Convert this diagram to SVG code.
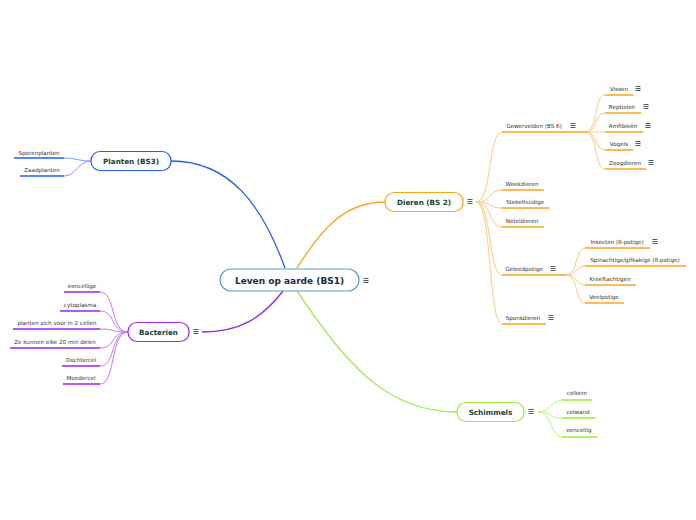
<svg xmlns="http://www.w3.org/2000/svg" xmlns:xlink="http://www.w3.org/1999/xlink" width="696" height="520" viewBox="0 0 696 520">
<style>
.bg{fill:#ffffff}
.node{fill:#ffffff;stroke-width:1.2}
.nt{font-family:"DejaVu Sans",Verdana,sans-serif;font-weight:bold;font-size:7.2px;fill:#1d4036;text-anchor:middle;dominant-baseline:central}
.ct{font-family:"DejaVu Sans",Verdana,sans-serif;font-weight:bold;font-size:9px;fill:#1a2a4a;text-anchor:middle;dominant-baseline:central}
.lt{font-family:"DejaVu Sans",Verdana,sans-serif;font-size:5.6px;fill:#333333;text-anchor:middle}
.ul{fill:none;stroke-width:1.5}
.cn{fill:none;stroke-width:1}
.main{fill:none;stroke-width:1.3}
.blue{stroke:#1f5cff}
.purple{stroke:#a020f0}
.orange{stroke:#ffa31a}
.green{stroke:#96ee36}
.lblue{stroke:#7c9cff}
.lpurple{stroke:#c77cf5}
.lorange{stroke:#ffcc80}
.lgreen{stroke:#bdf58a}
</style>
<defs>
<g id="menu"><path d="M-2.5,-2.5H2.5M-2.5,-0.5H2.5M-2.5,1.5H2.5" stroke="#3d4a5a" stroke-width="0.9" fill="none"/></g>
</defs>
<rect class="bg" width="696" height="520"/>
<g id="connectors">
<path class="main blue" d="M285,268 C262,205 230,161 171,161"/>
<path class="main purple" d="M283,291 C262,318 240,332 202,332"/>
<path class="main orange" d="M297,268 C322,228 345,202 385,202"/>
<path class="main green" d="M297,291 C345,362 385,412 457,412"/>
<path class="cn lblue" d="M91,161 C78,161 76,158 64,158"/>
<path class="cn lblue" d="M91,161 C78,161 76,176 64,176"/>
<path class="cn lpurple" d="M128,332 C110,332 116,292 100,292"/>
<path class="cn lpurple" d="M128,332 C110,332 116,311 100,311"/>
<path class="cn lpurple" d="M128,332 C110,332 116,329 100,329"/>
<path class="cn lpurple" d="M128,332 C110,332 116,348 100,348"/>
<path class="cn lpurple" d="M128,332 C110,332 116,366 100,366"/>
<path class="cn lpurple" d="M128,332 C110,332 116,384 100,384"/>
<path class="cn lorange" d="M476,202 C492,202 488,132 502,132"/>
<path class="cn lorange" d="M476,202 C492,202 488,190 502,190"/>
<path class="cn lorange" d="M476,202 C492,202 488,208 502,208"/>
<path class="cn lorange" d="M476,202 C492,202 488,227 502,227"/>
<path class="cn lorange" d="M476,202 C492,202 488,275 502,275"/>
<path class="cn lorange" d="M476,202 C492,202 488,324 502,324"/>
<path class="cn lorange" d="M585,132 C598,132 594,95 605,95"/>
<path class="cn lorange" d="M585,132 C598,132 594,113 605,113"/>
<path class="cn lorange" d="M585,132 C598,132 594,132 605,132"/>
<path class="cn lorange" d="M585,132 C598,132 594,150 605,150"/>
<path class="cn lorange" d="M585,132 C598,132 594,169 605,169"/>
<path class="cn lorange" d="M566,275 C578,275 575,248 585,248"/>
<path class="cn lorange" d="M566,275 C578,275 575,266 585,266"/>
<path class="cn lorange" d="M566,275 C578,275 575,285 585,285"/>
<path class="cn lorange" d="M566,275 C578,275 575,303 585,303"/>
<path class="cn lgreen" d="M538,412 C552,412 550,400 562,400"/>
<path class="cn lgreen" d="M538,412 C552,412 550,418 562,418"/>
<path class="cn lgreen" d="M538,412 C552,412 550,437 562,437"/>
</g>
<g id="center">
<rect class="node" x="220" y="269" width="139" height="22" rx="11" stroke="#5b9fd6"/>
<text class="ct" x="289.5" y="280.5">Leven op aarde (BS1)</text>
<use xlink:href="#menu" x="366" y="281"/>
</g>
<g id="planten">
<rect class="node" x="91" y="151.5" width="80" height="19" rx="9" stroke="#1f5cff"/>
<text class="nt" x="131" y="161">Planten (BS3)</text>
</g>
<g id="sporenplanten"><text class="lt" x="39" y="155">Sporenplanten</text><path class="ul blue" d="M14,158H64"/></g>
<g id="zaadplanten"><text class="lt" x="42" y="172">Zaadplanten</text><path class="ul blue" d="M20,176H64"/></g>
<g id="bacterien">
<rect class="node" x="128" y="322.5" width="61" height="19" rx="9" stroke="#a020f0"/>
<text class="nt" x="158.5" y="332">Bacterien</text>
<use xlink:href="#menu" x="196" y="332"/>
</g>
<g id="eencellige"><text class="lt" x="82" y="288">eencellige</text><path class="ul purple" d="M64,292H100"/></g>
<g id="cytoplasma"><text class="lt" x="80" y="307">cytoplasma</text><path class="ul purple" d="M60,311H100"/></g>
<g id="planten-zich"><text class="lt" x="57" y="325">planten zich voor in 2 cellen</text><path class="ul purple" d="M13,329H100"/></g>
<g id="ze-kunnen"><text class="lt" x="55" y="344">Ze kunnen elke 20 min delen</text><path class="ul purple" d="M10,348H100"/></g>
<g id="dochtercel"><text class="lt" x="81" y="362">Dochtercel</text><path class="ul purple" d="M62,366H100"/></g>
<g id="moedercel"><text class="lt" x="81" y="380">Moedercel</text><path class="ul purple" d="M63,384H100"/></g>
<g id="dieren">
<rect class="node" x="385" y="192.5" width="78" height="19" rx="9" stroke="#ffa31a"/>
<text class="nt" x="424" y="202">Dieren (BS 2)</text>
<use xlink:href="#menu" x="470" y="202"/>
</g>
<g id="gewervelden"><text class="lt" x="534" y="128">Gewervelden (BS 6)</text><use xlink:href="#menu" x="573" y="126"/><path class="ul orange" d="M502,132H587"/></g>
<g id="vissen"><text class="lt" x="619" y="91">Vissen</text><use xlink:href="#menu" x="638" y="89"/><path class="ul orange" d="M605,95H633"/></g>
<g id="reptielen"><text class="lt" x="622" y="109">Reptielen</text><use xlink:href="#menu" x="646" y="107"/><path class="ul orange" d="M605,113H641"/></g>
<g id="amfibieen"><text class="lt" x="623" y="128">Amfibieën</text><use xlink:href="#menu" x="648" y="126"/><path class="ul orange" d="M605,132H643"/></g>
<g id="vogels"><text class="lt" x="619" y="146">Vogels</text><use xlink:href="#menu" x="638" y="144"/><path class="ul orange" d="M605,150H633"/></g>
<g id="zoogdieren"><text class="lt" x="625" y="165">Zoogdieren</text><use xlink:href="#menu" x="651" y="163"/><path class="ul orange" d="M605,169H646"/></g>
<g id="weekdieren"><text class="lt" x="522" y="186">Weekdieren</text><path class="ul orange" d="M502,190H544"/></g>
<g id="stekelhuidige"><text class="lt" x="525" y="204">Stekelhuidige</text><path class="ul orange" d="M502,208H549"/></g>
<g id="neteldieren"><text class="lt" x="522" y="223">Neteldieren</text><path class="ul orange" d="M502,227H544"/></g>
<g id="geleedpotige"><text class="lt" x="524" y="271">Geleedpotige</text><use xlink:href="#menu" x="553" y="269"/><path class="ul orange" d="M502,275H566"/></g>
<g id="insecten"><text class="lt" x="617" y="244">Insecten (6-potige)</text><use xlink:href="#menu" x="655" y="242"/><path class="ul orange" d="M585,248H650"/></g>
<g id="spinachtige"><text class="lt" x="635" y="262">Spinachtige/gifkakige (8 potige)</text><path class="ul orange" d="M585,266H686"/></g>
<g id="kreeftachtigen"><text class="lt" x="610" y="281">Kreeftachtigen</text><path class="ul orange" d="M585,285H636"/></g>
<g id="veelpotige"><text class="lt" x="604" y="299">Veelpotige</text><path class="ul orange" d="M585,303H624"/></g>
<g id="sponsdieren"><text class="lt" x="523" y="320">Sponsdieren</text><use xlink:href="#menu" x="551" y="318"/><path class="ul orange" d="M502,324H546"/></g>
<g id="schimmels">
<rect class="node" x="457" y="402.5" width="67" height="19" rx="9" stroke="#96ee36"/>
<text class="nt" x="490.5" y="412">Schimmels</text>
<use xlink:href="#menu" x="531" y="412"/>
</g>
<g id="celkern"><text class="lt" x="577" y="395">celkern</text><path class="ul green" d="M562,400H592"/></g>
<g id="celwand"><text class="lt" x="578" y="414">celwand</text><path class="ul green" d="M562,418H595"/></g>
<g id="eencellig"><text class="lt" x="579" y="432">eencellig</text><path class="ul green" d="M562,437H597"/></g>
</svg>
